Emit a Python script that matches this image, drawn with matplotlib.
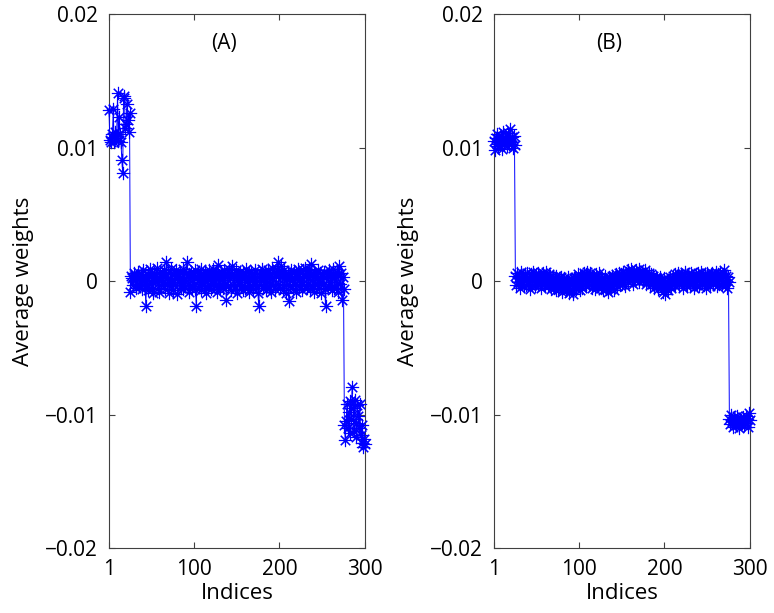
import numpy as np
import matplotlib
matplotlib.use("Agg")
import matplotlib.pyplot as plt

plt.rcParams.update({"font.family": ["Open Sans", "DejaVu Sans"], "font.size": 15})

# ---------------------------------------------------------------- data
idx = np.arange(1, 301)

# panel A: first 25 weights, middle 250 (in 1e-4 units), last 25
a_head = [0.0128, 0.0106, 0.0104, 0.0110, 0.0108, 0.0129, 0.0104, 0.0112,
          0.0107, 0.0109, 0.0141, 0.0105, 0.0123, 0.0110, 0.0104, 0.0091,
          0.0081, 0.0137, 0.0139, 0.0115, 0.0118, 0.0133, 0.0121, 0.0112,
          0.0126]
a_mid = [-8, 4, 2, -3, 6, 1, -5, 3, -2, 7,
         -4, 2, 5, -6, 1, 8, -3, 4, -19, 2,
         -7, 5, -2, 9, 3, -6, 1, -9, 6, -1,
         4, 10, -5, 2, -8, 7, -3, 5, -1, 8,
         -6, 3, 14, -2, 6, -9, 2, -4, 9, 1,
         -7, 5, -3, 8, 2, -10, 4, -1, 7, -5,
         3, -6, 9, 1, -4, 6, 14, -3, 5, -8,
         2, 7, -5, 4, -2, 8, -6, -19, 3, 6,
         -4, 1, 9, -7, 2, 5, -3, 7, -9, 4,
         0, -5, 8, 3, -6, 6, -2, 9, -4, 2,
         5, -8, 12, -3, 4, -6, 7, 1, -5, 8,
         -2, 3, -14, 6, -4, 9, 2, -7, 5, 11,
         -3, 4, -6, 8, 1, -9, 5, -2, 7, -4,
         3, -7, 6, 2, -5, 9, -1, 4, -8, 6,
         -3, 7, 1, -6, 5, -2, 8, -4, 3, -9,
         -19, 4, 6, -3, 9, -5, 2, 7, -7, 3,
         -1, 8, -4, 5, -8, 2, 10, -3, 6, -6,
         4, 9, 14, -2, 7, -5, 11, 3, -7, 8,
         -3, 5, -9, 2, 6, -15, 4, -4, 8, 1,
         -6, 7, -2, 5, -8, 3, 9, -4, 6, -1,
         2, -7, 8, -3, 10, 4, -5, 6, -2, 9,
         -6, 13, 1, -4, 7, -8, 3, 5, -3, 8,
         -5, 2, 6, -9, 4, -2, 7, -6, -19, 3,
         5, -4, 8, -1, 6, -7, 2, 9, -5, 4,
         -3, 7, -8, 5, 11, -2, 6, -14, 3, -6]
a_tail = [-0.0108, -0.0119, -0.0105, -0.0092, -0.0110, -0.0098, -0.0114,
          -0.0090, -0.0103, -0.0079, -0.0095, -0.0112, -0.0089, -0.0106,
          -0.0117, -0.0093, -0.0101, -0.0110, -0.0092, -0.0115, -0.0121,
          -0.0108, -0.0124, -0.0118, -0.0122]

# panel B
b_head = [0.0105, 0.0098, 0.0107, 0.0103, 0.0110, 0.0101, 0.0106, 0.0104,
          0.0109, 0.0099, 0.0107, 0.0112, 0.0103, 0.0108, 0.0105, 0.0101,
          0.0111, 0.0106, 0.0103, 0.0114, 0.0104, 0.0108, 0.0100, 0.0109,
          0.0102]
b_mid = [4, -3, 6, -1, 3, -5, 2, 7, -2, 4,
         -4, 5, 1, -3, 6, -2, 3, -6, 5, 0,
         -3, 7, 2, -4, 5, -1, 6, -3, 1, 4,
         -5, 3, 6, -2, 4, -4, 7, 1, -3, 5,
         -2, 4, -6, 1, 3, -5, 2, -7, 4, -1,
         -6, 2, -4, 3, -8, 1, -5, 2, -3, -7,
         0, -5, 3, -9, -2, 1, -6, -10, 2, -4,
         3, -6, 1, 5, -3, -7, 4, 2, -5, 3,
         6, -2, 5, -4, 7, 1, -3, 6, 2, -5,
         4, -1, 3, -6, 5, -3, 1, -4, 6, -2,
         -5, 2, -7, 1, -3, 4, -6, 0, -8, 3,
         -4, 2, -6, 4, -2, -7, 3, -1, 5, -4,
         2, 6, -3, 5, 1, -2, 7, 3, -4, 6,
         3, 8, -1, 6, 2, 9, 4, -2, 7, 5,
         1, 8, 3, 6, -1, 9, 4, 2, 7, 0,
         5, 3, 8, -2, 4, 1, 6, -3, 5, 2,
         -2, 4, -5, 1, 3, -4, 2, -6, 0, 3,
         -4, -1, -8, -3, 2, -10, -5, -2, -7, 1,
         -3, 3, -5, 1, 4, -2, 5, -4, 2, 0,
         6, -3, 3, 5, -1, 4, -5, 2, 7, -2,
         3, -4, 5, 1, -3, 6, 0, -2, 4, -5,
         2, 5, -3, 6, 1, -4, 3, 7, -1, 4,
         -3, 5, 2, -5, 6, 0, 3, -4, 5, 1,
         6, -2, 4, 1, 7, -4, 3, 5, -2, 6,
         2, -3, 5, 0, 8, -2, 4, -5, 3, -1]
b_tail = [-0.0103, -0.0107, -0.0100, -0.0105, -0.0109, -0.0102, -0.0106,
          -0.0104, -0.0108, -0.0101, -0.0105, -0.0110, -0.0103, -0.0107,
          -0.0104, -0.0106, -0.0102, -0.0108, -0.0105, -0.0101, -0.0106,
          -0.0103, -0.0109, -0.0099, -0.0104]

w_a = np.concatenate([a_head, np.array(a_mid) * 1e-4, a_tail])
w_b = np.concatenate([b_head, np.array(b_mid) * 1e-4, b_tail])

xticks = [1, 100, 200, 300]
yticks = [-0.02, -0.01, 0, 0.01, 0.02]
yticklabels = ["\u22120.02", "\u22120.01", "0", "0.01", "0.02"]

# ---------------------------------------------------------------- figure
fig = plt.figure(figsize=(7.74, 6.13), dpi=100)
axes = [fig.add_axes([0.1408, 0.106, 0.3307, 0.871]),
        fig.add_axes([0.6382, 0.106, 0.3307, 0.871])]

for ax, w, lab in zip(axes, [w_a, w_b], ["(A)", "(B)"]):
    ax.plot(idx, w, color="#0000ff", lw=0.7, marker=(8, 2, 0), ms=9.5,
            mew=0.8, clip_on=False, zorder=3)
    ax.set_xlim(1, 300)
    ax.set_ylim(-0.02, 0.02)
    ax.set_xticks(xticks)
    ax.set_xticklabels([str(t) for t in xticks])
    ax.set_yticks(yticks)
    ax.set_yticklabels(yticklabels)
    ax.tick_params(direction="in", length=4, width=0.8, color="#404040",
                   top=True, right=True, pad=8, labelsize=15)
    for s in ax.spines.values():
        s.set_color("#404040")
        s.set_linewidth(0.8)
    ax.set_xlabel("Indices", labelpad=2, fontsize=16)
    ax.set_ylabel("Average weights", labelpad=8, fontsize=16)
    ax.text(135, 0.0178, lab, ha="center", va="center", fontsize=15)

fig.savefig("out.png", dpi=100)
